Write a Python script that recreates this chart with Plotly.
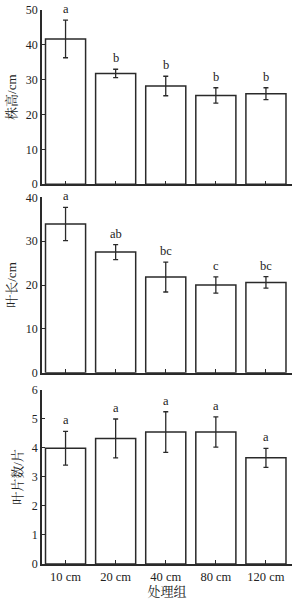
import plotly.graph_objects as go

categories = ["10 cm", "20 cm", "40 cm", "80 cm", "120 cm"]

plant_height = [41.7, 31.8, 28.2, 25.5, 26.0]
plant_height_err = [5.4, 1.2, 2.8, 2.2, 1.7]
plant_height_sig = ["a", "b", "b", "b", "b"]

leaf_length = [33.9, 27.5, 21.8, 20.0, 20.6]
leaf_length_err = [3.8, 1.7, 3.4, 1.85, 1.3]
leaf_length_sig = ["a", "ab", "bc", "c", "bc"]

leaf_number = [3.99, 4.33, 4.55, 4.55, 3.66]
leaf_number_err = [0.58, 0.67, 0.70, 0.52, 0.33]
leaf_number_sig = ["a", "a", "a", "a", "a"]

panels = [
    (plant_height, plant_height_err, plant_height_sig, "株高/cm", [0, 50], 10),
    (leaf_length, leaf_length_err, leaf_length_sig, "叶长/cm", [0, 40], 10),
    (leaf_number, leaf_number_err, leaf_number_sig, "叶片数/片", [0, 6], 1),
]

domains = [[0.6854, 1.0], [0.3453, 0.6619], [0.0, 0.3141]]

FONT = "Liberation Serif"
CJK = "Liberation Serif, Noto Serif CJK SC, Noto Sans CJK SC"
LINE = "#2a2a2a"
TXT = "#222222"

fig = go.Figure()
annotations = []
xs = list(range(len(categories)))

for i, (vals, errs, sig, title, yr, dt) in enumerate(panels):
    n = i + 1
    xa = "x" if n == 1 else f"x{n}"
    ya = "y" if n == 1 else f"y{n}"
    fig.add_trace(go.Bar(
        x=xs, y=vals, width=0.8,
        marker=dict(color="white", line=dict(color=LINE, width=1.5)),
        error_y=dict(type="data", array=errs, visible=True, color=LINE,
                     thickness=1.3, width=2.5),
        xaxis=xa, yaxis=ya, showlegend=False,
    ))
    for xi, v, e, s in zip(xs, vals, errs, sig):
        annotations.append(dict(
            x=xi, y=v + e, xref=xa, yref=ya, text=s, showarrow=False,
            yanchor="bottom", yshift=2,
            font=dict(family=FONT, size=12.5, color=TXT),
        ))
    axx = dict(
        domain=[0, 1], range=[-0.47, 4.52], anchor=ya,
        tickmode="array", tickvals=xs,
        ticktext=categories if n == 3 else [""] * 5,
        showticklabels=(n == 3),
        ticks="inside", ticklen=4, tickwidth=1.2, tickcolor=LINE,
        showline=True, linecolor=LINE, linewidth=1.5,
        showgrid=False, zeroline=False, automargin=False,
        tickfont=dict(family=FONT, size=12.5, color=TXT),
    )
    if n == 3:
        axx["title"] = dict(text="处理组", font=dict(family=CJK, size=13, color=TXT),
                            standoff=4)
    axy = dict(
        domain=domains[i], range=yr, anchor=xa, dtick=dt, tick0=0,
        ticks="inside", ticklen=3, tickwidth=1.2, tickcolor=LINE,
        showline=True, linecolor=LINE, linewidth=1.5,
        showgrid=False, zeroline=False, automargin=False,
        tickfont=dict(family=FONT, size=12, color=TXT),
        title=dict(text=title, font=dict(family=CJK, size=13, color=TXT), standoff=6),
    )
    fig.update_layout(**{("xaxis" if n == 1 else f"xaxis{n}"): axx,
                         ("yaxis" if n == 1 else f"yaxis{n}"): axy})

fig.update_layout(
    width=308, height=603,
    margin=dict(l=42, r=16, t=10, b=39),
    paper_bgcolor="white", plot_bgcolor="white",
    annotations=annotations,
    bargap=0.2,
)

fig.write_html("out.html")
